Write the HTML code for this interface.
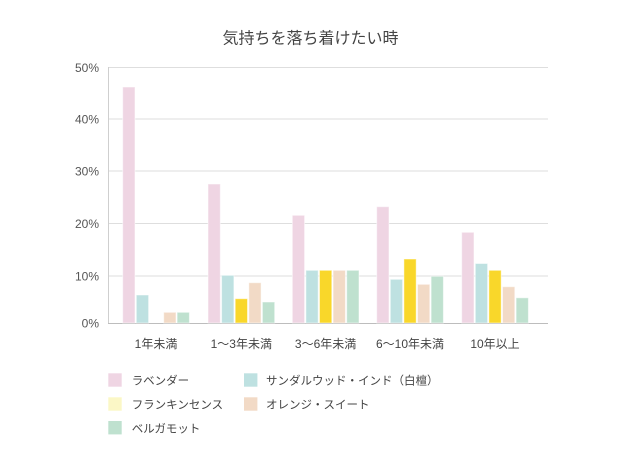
<!DOCTYPE html>
<html><head><meta charset="utf-8"><style>
html,body{margin:0;padding:0;background:#fff;}
svg{display:block;font-family:"Liberation Sans","Noto Sans CJK JP",sans-serif;}
</style></head><body>
<svg width="620" height="471" viewBox="0 0 620 471" xmlns="http://www.w3.org/2000/svg">
<text x="310.5" y="43.5" text-anchor="middle" font-size="16" fill="#444" font-family="Liberation Sans, Noto Sans CJK JP, sans-serif">気持ちを落ち着けたい時</text>
<g stroke="#dedede" stroke-width="1">
<line x1="108" y1="67.5" x2="548" y2="67.5"/>
<line x1="108" y1="119" x2="548" y2="119"/>
<line x1="108" y1="171" x2="548" y2="171"/>
<line x1="108" y1="223.5" x2="548" y2="223.5"/>
<line x1="108" y1="276" x2="548" y2="276"/>
</g>
<line x1="108.5" y1="67" x2="108.5" y2="323" stroke="#cfcfcf"/>
<line x1="108" y1="323.5" x2="548" y2="323.5" stroke="#bdbdbd"/>
<g font-size="12" fill="#555" text-anchor="end">
<text x="99" y="72">50%</text>
<text x="99" y="123.5">40%</text>
<text x="99" y="175.5">30%</text>
<text x="99" y="228">20%</text>
<text x="99" y="280.5">10%</text>
<text x="99" y="327.5">0%</text>
</g>
<g stroke="#ffffff" stroke-opacity="0.5" stroke-width="1">
<rect x="122.7" y="87" width="12.3" height="236" fill="#efd5e3"/>
<rect x="136.3" y="295" width="12.3" height="28" fill="#bee1e1"/>
<rect x="163.7" y="312.3" width="12.3" height="10.7" fill="#f2dac6"/>
<rect x="177.1" y="312.3" width="12.3" height="10.7" fill="#bfe1cf"/>
<rect x="208" y="184" width="12.3" height="139" fill="#efd5e3"/>
<rect x="221.6" y="275.3" width="12.3" height="47.7" fill="#bee1e1"/>
<rect x="235.2" y="298.7" width="12.3" height="24.3" fill="#f9d72a"/>
<rect x="248.8" y="282.7" width="12.3" height="40.3" fill="#f2dac6"/>
<rect x="262.4" y="302" width="12.3" height="21" fill="#bfe1cf"/>
<rect x="292.3" y="215.3" width="12.3" height="107.7" fill="#efd5e3"/>
<rect x="305.9" y="270.3" width="12.3" height="52.7" fill="#bee1e1"/>
<rect x="319.5" y="270.3" width="12.3" height="52.7" fill="#f9d72a"/>
<rect x="333.1" y="270.3" width="12.3" height="52.7" fill="#f2dac6"/>
<rect x="346.7" y="270.3" width="12.3" height="52.7" fill="#bfe1cf"/>
<rect x="376.7" y="206.7" width="12.3" height="116.3" fill="#efd5e3"/>
<rect x="390.3" y="279.3" width="12.3" height="43.7" fill="#bee1e1"/>
<rect x="403.9" y="259" width="12.3" height="64" fill="#f9d72a"/>
<rect x="417.5" y="284.3" width="12.3" height="38.7" fill="#f2dac6"/>
<rect x="431.1" y="276.3" width="12.3" height="46.7" fill="#bfe1cf"/>
<rect x="461.7" y="232.3" width="12.3" height="90.7" fill="#efd5e3"/>
<rect x="475.3" y="263.5" width="12.3" height="59.5" fill="#bee1e1"/>
<rect x="488.9" y="270.3" width="12.3" height="52.7" fill="#f9d72a"/>
<rect x="502.5" y="286.7" width="12.3" height="36.3" fill="#f2dac6"/>
<rect x="516.1" y="297.8" width="12.3" height="25.2" fill="#bfe1cf"/>
</g>
<g font-size="12" fill="#444" text-anchor="middle">
<text x="156" y="348">1年未満</text>
<text x="241.3" y="348">1〜3年未満</text>
<text x="325.6" y="348">3〜6年未満</text>
<text x="410" y="348">6〜10年未満</text>
<text x="495" y="348">10年以上</text>
</g>
<rect x="108.3" y="373.3" width="13.4" height="13.4" fill="#efd5e3"/>
<rect x="244" y="373.3" width="13.4" height="13.4" fill="#bee1e1"/>
<rect x="108.3" y="397.3" width="13.4" height="13.4" fill="#fbf7c6"/>
<rect x="244" y="397.3" width="13.4" height="13.4" fill="#f2dac6"/>
<rect x="108.3" y="421" width="13.4" height="13.4" fill="#bfe1cf"/>
<g font-size="11.5" fill="#444">
<text x="131.7" y="384.5">ラベンダー</text>
<text x="266" y="384.5">サンダルウッド・インド（白檀）</text>
<text x="131.7" y="408.5">フランキンセンス</text>
<text x="266" y="408.5">オレンジ・スイート</text>
<text x="131.7" y="432.3">ベルガモット</text>
</g>
</svg>
</body></html>
